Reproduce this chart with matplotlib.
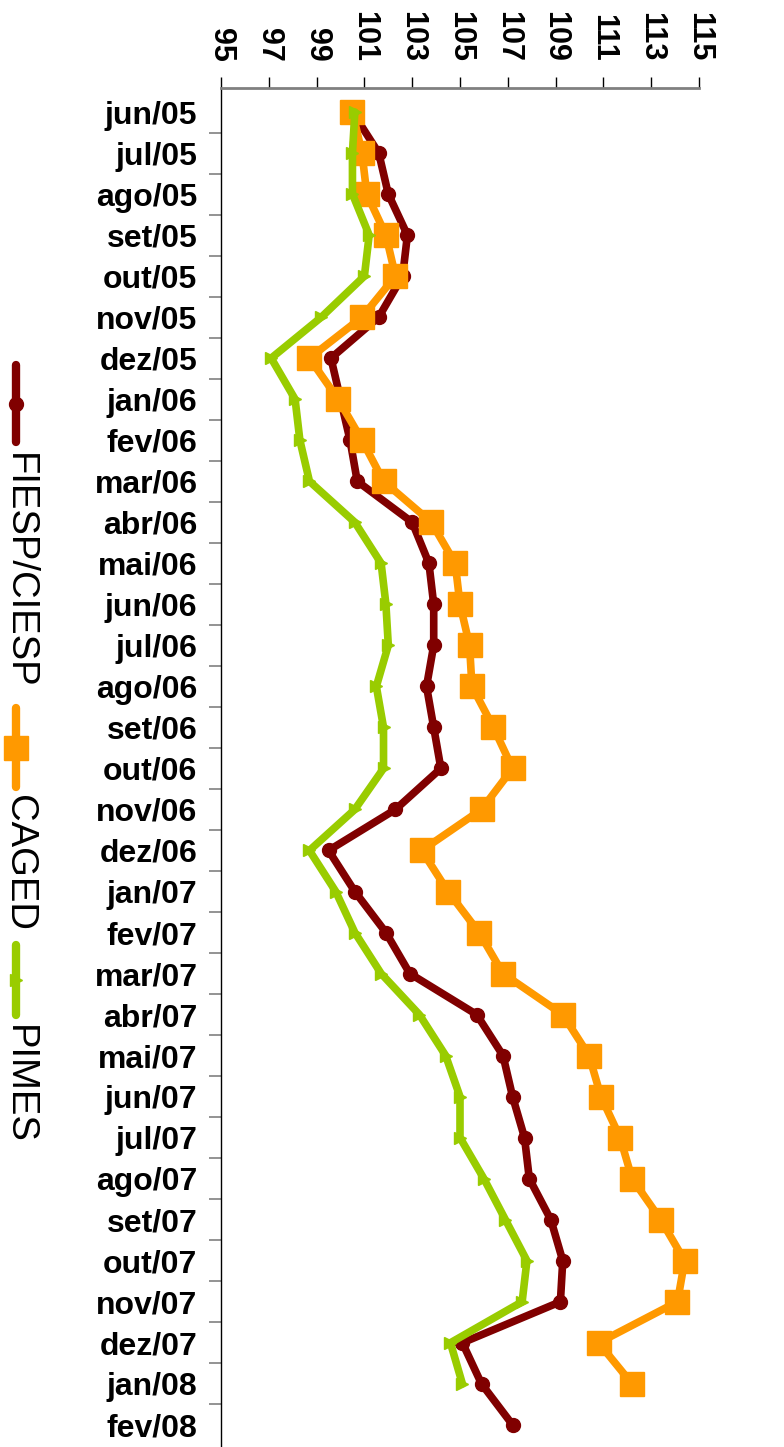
import matplotlib.pyplot as plt
import numpy as np
from matplotlib.lines import Line2D

meses = ['jun/05', 'jul/05', 'ago/05', 'set/05', 'out/05', 'nov/05', 'dez/05',
         'jan/06', 'fev/06', 'mar/06', 'abr/06', 'mai/06', 'jun/06', 'jul/06',
         'ago/06', 'set/06', 'out/06', 'nov/06', 'dez/06',
         'jan/07', 'fev/07', 'mar/07', 'abr/07', 'mai/07', 'jun/07', 'jul/07',
         'ago/07', 'set/07', 'out/07', 'nov/07', 'dez/07',
         'jan/08', 'fev/08']

fiesp = [100.5, 101.6, 102.0, 102.8, 102.6, 101.6, 99.6,
         100.0, 100.4, 100.7, 103.0, 103.7, 103.9, 103.9,
         103.6, 103.9, 104.2, 102.3, 99.5,
         100.6, 101.9, 102.9, 105.7, 106.8, 107.2, 107.7,
         107.9, 108.8, 109.3, 109.2, 105.1,
         105.9, 107.2]

caged = [100.5, 100.9, 101.1, 101.9, 102.3, 100.9, 98.7,
         99.9, 100.9, 101.8, 103.8, 104.8, 105.0, 105.4,
         105.5, 106.4, 107.2, 105.9, 103.4,
         104.5, 105.8, 106.8, 109.3, 110.4, 110.9, 111.7,
         112.2, 113.4, 114.4, 114.1, 110.8,
         112.2, np.nan]

pimes = [100.6, 100.5, 100.5, 101.2, 101.0, 99.2, 97.1,
         98.1, 98.3, 98.7, 100.6, 101.7, 101.9, 102.0,
         101.5, 101.8, 101.8, 100.6, 98.7,
         99.8, 100.6, 101.7, 103.3, 104.4, 105.0, 105.0,
         106.0, 106.9, 107.8, 107.6, 104.6,
         105.1, np.nan]

series = [('FIESP/CIESP', fiesp, '#800000', 'o', 10),
          ('CAGED', caged, '#FF9900', 's', 17),
          ('PIMES', pimes, '#99CC00', '>', 9)]

plt.rcParams['font.family'] = ['Liberation Sans', 'DejaVu Sans']

W, H = 784, 1447
fig = plt.figure(figsize=(W / 100, H / 100), dpi=100)
ax = fig.add_axes([221 / W, 0, (699 - 221) / W, (H - 88) / H])

y = np.arange(len(meses))
for name, vals, color, mk, ms in series:
    ax.plot(vals, y, color=color, lw=5.5, marker=mk, ms=ms, mec=color, mfc=color,
            solid_capstyle='round', solid_joinstyle='miter', label=name)

ax.set_xlim(95, 115)
ax.set_ylim(32.54, -0.585)
ax.xaxis.tick_top()
ax.set_xticks(np.arange(95, 116, 2))
ax.tick_params(axis='x', direction='out', length=8, width=1, pad=11,
               labelsize=22, labelrotation=270)
for lab in ax.get_xticklabels():
    lab.set_fontweight('bold')

ax.set_yticks(y)
ax.set_yticklabels(meses, fontsize=23, fontweight='bold')
ax.set_yticks(y[:-1] + 0.5, minor=True)
ax.tick_params(axis='y', which='major', length=0, pad=17)
ax.tick_params(axis='y', which='minor', direction='out', length=9, width=1.2, color='#808080')

ax.spines['right'].set_visible(False)
ax.spines['bottom'].set_visible(False)
ax.spines['top'].set_color('#808080')
ax.spines['top'].set_linewidth(2)
ax.spines['left'].set_color('black')
ax.spines['left'].set_linewidth(1)

# legend drawn by hand, rotated
leg = [(365, 442, 453), (708, 787, 795), (945, 1015, 1025)]
for (name, vals, color, mk, ms), (y0, y1, yt) in zip(series, leg):
    xs = [16 / W] * 3
    ys = [1 - y0 / H, 1 - (y0 + y1) / 2 / H, 1 - y1 / H]
    fig.add_artist(Line2D(xs, ys, transform=fig.transFigure, color=color, lw=6,
                          marker=mk, ms=ms, mec=color, mfc=color, markevery=[1],
                          solid_capstyle='round'))
    fig.text(19 / W, 1 - yt / H, name, rotation=270, ha='center', va='top',
             fontsize=27.5, transform=fig.transFigure)

fig.savefig('out.png', dpi=100)
